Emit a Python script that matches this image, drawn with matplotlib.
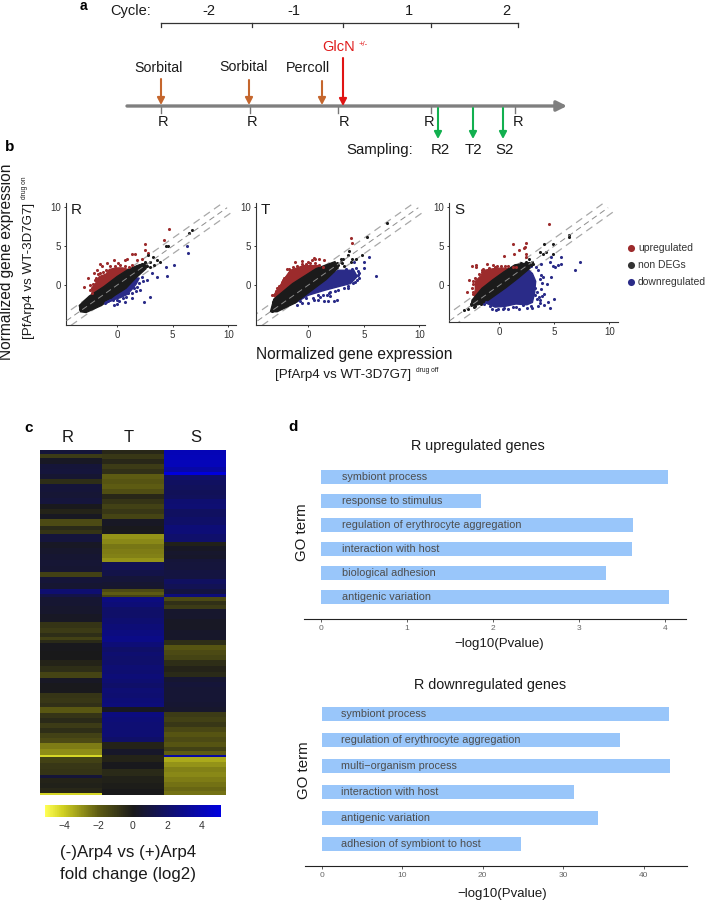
import matplotlib
matplotlib.use('Agg')
import matplotlib.pyplot as plt
from matplotlib.colors import LinearSegmentedColormap
import numpy as np

plt.rcParams['font.family'] = ['Liberation Sans', 'DejaVu Sans']

W, H = 708, 902

# panel b: dense clouds are outlines, the rest single points
R_up_cloud = [(-2.2,-1.2),(-2.3,-0.4),(-1.9,0.3),(-1.6,1.1),(-1.0,1.4),(-0.7,2.0),(-0.1,2.2),(0.5,2.2),(1.0,2.0),(0.9,1.2),(0,0.5),(-1.2,-0.5)]
R_non_cloud = [(-3.3,-3.4),(-3.4,-2.6),(-2.5,-1.4),(-1.2,-0.2),(0,1.1),(1.0,2.0),(2.0,2.6),(2.7,2.8),(2.6,2.1),(1.6,0.8),(0.8,-0.4),(-0.2,-1.3),(-1.4,-2.6),(-2.8,-3.5)]
R_down_cloud = [(-1.5,-2.3),(-0.6,-2.0),(0.3,-1.6),(0.9,-1.2),(1.3,-0.6),(1.7,0.1),(2.0,0.9),(1.6,0.9),(0.7,-0.2),(-0.3,-1.1)]
R_up_pts = [(4.7,7.2),(2.5,5.3),(4.2,5.8),(1.3,4.0),(1.6,4.0),(-0.3,3.2),(-1.5,2.7),(-1.4,2.5),(0.7,3.2),(0.9,3.3),(2.2,3.4),(2.5,4.5),(2.8,4.1),(-2.6,0.9),(-3.0,-0.2),(-2.1,1.5),(-2.4,0),(-1.8,1.9),(-0.9,2.8),(0.1,2.8),(1.8,3.2),
            (-2.3,-1.0),(-2.4,-0.6),(-2.2,0.2),(-1.9,0.9),(-1.7,1.4),(-1.3,1.7),(-1.0,1.9),(-0.6,2.4),(-0.2,2.5),(0.3,2.6),(0.7,2.4),(1.1,2.3),(1.3,2.6),(-2.0,0.6),(-1.5,1.6)]
R_non_pts = [(6.7,7.0),(6.5,6.7),(4.4,5),(4.6,5),(3.6,3.2),(3.3,2.6),(3,2.3),(3.9,3),(2.8,3.8),(3.2,3.6),(-3.3,-3.1),(-3.2,-2.8),(-2.9,-2.1),(-2.4,-2.8),(-2.1,-2.6),(-1.7,-2.3),
             (-3,-2.4),(-2.6,-2.2),(-2.2,-1.9),(-2.7,-1.9),(-1.9,-1.3),(1.2,1.8),(1.8,2.5),(2.2,2.7),(2.7,2.4),(2.5,2.9),(3,3)]
R_down_pts = [(6.3,5),(6.4,4.1),(5.1,2.6),(4.4,2.3),(4.5,1.2),(3.6,1.1),(3.1,1.5),(3,-1.5),(2.4,-2.2),(-0.3,-2.6),(0,-2.4),(0.7,-2.1),(1.3,-1.7),(-0.6,-1.9),(-1.1,-2.3),(2.1,-0.6),(2.7,0.6),
              (-1,-2.2),(-0.4,-1.9),(0,-1.9),(0.5,-1.6),(0.8,-1.5),(1,-1),(1.3,-1),(1.5,-0.4),(1.8,-0.2),(2,0.3),(2.3,0.5),(2.2,1.0),(-0.8,-2.0),(0.2,-2.0),(1.7,-0.7)]

T_up_cloud = [(-3.1,-1.3),(-2.5,0),(-1.9,1.3),(-1.6,1.9),(-0.4,2.5),(0.9,2.5),(1.1,1.9),(-1.3,0),(-2.8,-1.9)]
T_non_cloud = [(-3.4,-3.4),(-3.1,-1.8),(-1.4,0.2),(0.7,2.1),(2.4,3.0),(2.7,2.2),(1.6,0.7),(0,-1.0),(-1.2,-2.3),(-2.8,-3.4)]
T_down_cloud = [(-1.2,-2.3),(0,-1.3),(1.5,-0.65),(2.7,-0.2),(3.8,0.2),(4.4,1.1),(4.1,1.9),(2.7,1.9),(1.5,0.85),(-0.1,-0.85)]
T_up_pts = [(3.8,6.0),(3.9,5.4),(-1.2,3),(-0.6,3.1),(-0.05,3),(0.5,3.5),(0.95,3.4),(1.4,3.2),(-1.9,2),(-2.4,0.4),(-2.8,-0.4),(-3.3,-1.3),(-3.1,-1.2),(-2.2,0.85),(-1.7,2.1),(0.6,3.3),(0.3,3.2),
            (-2.9,-0.7),(-2.6,-0.1),(-2.3,0.6),(-2.0,1.0),(-1.7,1.6),(-1.4,2.3),(-1,2.4),(-0.6,2.7),(-0.2,2.7),(0.2,2.8),(0.6,2.8),(1,2.6),(1.3,2.3)]
T_non_pts = [(7.1,7.9),(5.3,6.2),(3.7,4.4),(3.6,3.8),(2.9,3.4),(3.1,3.4),(3.9,3.3),(4.3,3.3),(4.8,3.9),(3.2,2.4),(2.6,2.8),(3.8,3),(-3.3,-3.3),
             (-3.1,-2.6),(-2.7,-2.7),(-2.3,-2.3),(-1.8,-2.2),(-1.5,-1.9),(2.9,3),(2.7,2.6),(2.2,2.1),(3,2.8),(-3.2,-2.2)]
T_down_pts = [(6.1,1.2),(5.5,3.6),(5,2.9),(5,2.2),(4.5,1.8),(4.4,0.6),(4,0.3),(3.6,-0.4),(2.6,-1.9),(2.3,-2),(1.8,-2),(1.4,-2),(0.9,-1.9),(0,-2.3),(-0.6,-2.3),(-1,-2.5),(2,-0.85),(4.1,3),(4.5,1.3),(2,-1.4),
              (-0.7,-2),(-0.2,-1.7),(0.4,-1.6),(0.9,-1.3),(1.3,-1.2),(1.9,-1),(2.4,-0.8),(2.7,-0.6),(3.2,-0.4),(3.6,-0.1),(4.2,0.4),(4.6,0.9),(4.6,1.6),(4.3,2.2),(3.9,2.1),(3.4,2.1),(0.5,-1.9),(1.1,-1.5),(1.7,-1.3)]

S_up_cloud = [(-2.3,-1.4),(-2.2,-0.5),(-2.2,0.5),(-1.7,1.2),(-1.4,1.9),(-0.6,2.1),(0.2,2.2),(1.0,2.1),(1.3,1.9),(0.5,1),(-0.6,0),(-1.7,-1.3)]
S_non_cloud = [(-2.6,-2.7),(-2.5,-1.9),(-1.6,-0.4),(-0.6,0.7),(0.4,1.7),(1.4,2.6),(2.8,2.9),(2.8,2.2),(1.7,0.9),(0.6,-0.3),(-0.4,-1.3),(-1.4,-2.3)]
S_down_cloud = [(-1.2,-2.3),(-0.4,-2.8),(0.5,-2.7),(1.5,-2.4),(2.5,-2.5),(3.0,-2.2),(3.2,-1),(3.3,0.5),(3.0,1.5),(2.6,2),(1.7,1.2),(0.6,0.1),(-0.4,-1)]
S_up_pts = [(4.5,7.8),(2.45,5.4),(2.3,4.9),(2.2,4.8),(1.2,5.2),(0.4,3.7),(1.3,4),(1.8,4.5),(2.4,4),(2.4,3.6),(-2.5,2.5),(-2.1,2.3),(-2.1,2.55),(-2.8,0.65),(-3,-0.85),(-2.45,0.5),(-1.1,2.7),(-0.6,2.55),(-0.2,2.5),(0.75,2.5),(-1.6,1.9),(-2.4,-1.1),
            (-2.4,-0.9),(-2.5,-0.3),(-2.4,0.2),(-2.2,0.9),(-1.9,1.4),(-1.6,1.7),(-1.5,2.1),(-1,2.2),(-0.4,2.3),(0.1,2.4),(0.5,2.4),(1.2,2.3),(1.5,2.3)]
S_non_pts = [(6.35,6.4),(6.3,6.1),(4.9,5.2),(4.1,5.2),(4.2,4.25),(4,4),(3.7,4.2),(4.9,4),(3.05,2.75),(2.65,3.4),(2.2,2.75),(-3.2,-3.2),(-2.9,-3),(-2.3,-2.75),
             (-2.6,-2.4),(-2.2,-2.6),(-2,-2.3),(-1.7,-2.4),(2.0,2.8),(2.4,3),(3,3),(2.9,2.6),(1.9,2.4)]
S_down_pts = [(7.3,2.9),(6.9,2),(5.6,3.6),(5.65,2.75),(5.35,2.6),(4.6,3),(4.9,2.5),(5.1,2.3),(4.7,3.6),(3.8,2.7),(4.7,1.1),(4.3,0.1),(5,-1.8),(4.6,-2.9),(4.1,-2.5),(4.4,-2.1),(4.1,-1.1),(3.7,-1.9),(-0.3,-3.2),(0.45,-2.9),(1.2,-2.8),(2.1,-2.55),(2.9,-2.6),(-1.2,-2.1),(3.4,-0.85),(3.7,0.85),(3.8,1.3),(3.2,-1.3),
              (-1.4,-2.4),(-0.9,-2.7),(-0.7,-3),(-0.1,-3),(0.3,-3.1),(0.8,-3),(1.5,-2.8),(1.8,-3),(2.5,-2.9),(3,-2.9),(3.5,-2.7),(3.7,-2.3),(3.6,-1.5),(3.9,-1.4),(3.8,-0.5),(3.9,0.3),(4,1),(3.5,1.9),(3.3,2.3),(2.9,2.4),(3.4,-1.8),(3.2,-0.4)]

legend_labels = ['upregulated', 'non DEGs', 'downregulated']

# panel c: value and band height for each column of the heat map
R_vals = [.8,-1,.3,.8,.9,.6,-.6,.8,.7,.9,.1,-.3,.2,-1.5,-.5,-.8,.9,.3,.5,.6,.7,.6,-1.2,.8,.6,2.2,1.2,.6,.5,.3,-.8,-1,-.6,-1.2,-.5,.1,0,-.3,-.6,-1.3,.3,.1,.1,-.8,-.9,-.7,-1.9,-.8,-.5,-1,-.6,-1.2,-1.5,-2.6,-2.9,-4.2,-1.2,-.9,-.8,.8,-.3,-.2,-.4,-4.2]
R_rows = [5,4,6,5,5,5,5,8,6,6,5,5,5,7,4,4,8,6,6,6,6,6,5,6,6,5,3,9,8,8,5,5,4,3,3,8,9,6,6,6,5,5,5,5,5,4,6,5,5,5,5,5,5,6,6,2,6,6,6,3,5,5,5,2]
T_vals = [-.4,-.9,-.4,-1,-.7,-2,-1.8,-2,-1.6,-.4,-.8,-1.2,-.9,-1.3,.3,.1,-3,-2.8,-2.5,-2.6,-2.7,-3,1.5,1.2,.8,.6,.5,-1.5,-2,-1.3,2.6,2.4,2,2,2.2,2.4,2.6,2.8,2.4,2,2.2,2.1,2.1,2.3,2.2,2.4,2.2,2,2.3,2.2,2.4,2.5,.2,2.6,2.4,2.3,2.3,2.3,2,-.3,.4,-.3,.1,-.5,-.2,-.1,0]
T_rows = [5,5,5,5,5,5,5,5,5,5,5,5,5,5,7,8,5,5,5,5,4,4,8,6,6,4,3,3,3,2,5,5,6,5,5,6,6,6,5,5,4,4,5,5,4,5,4,5,5,5,5,4,5,5,5,5,5,5,5,7,6,7,7,7,7,6,6]
S_vals = [4,4.1,4.1,3.6,5,2,1.8,1.7,1.6,1.7,2.2,2.3,1.8,2,2.4,2.1,-.2,.3,.5,.4,.8,.9,1,1.8,1.5,1,2.5,-1.5,-.7,-1,.5,.3,.4,-.6,-1.8,-1.5,-1.3,-.6,-.3,-.5,.6,.8,.7,.7,.7,.6,.5,-1,-1.2,-.9,-1.4,-1.8,-1.5,-1.8,-1.2,-2,3.5,-3.4,-3,-2.7,-2.8,-2.6,-2.4,-2.2,-2.4]
S_rows = [6,6,6,5,3,5,5,5,5,4,5,5,8,8,9,8,4,5,4,4,3,8,9,5,5,5,3,4,4,4,10,10,10,5,5,5,5,6,6,5,5,5,5,5,5,5,5,5,5,5,5,5,5,5,4,4,2,5,5,5,5,5,5,4,4]
heat_labels = ['R', 'T', 'S']

# panel d
up_terms = ['antigenic variation','biological adhesion','interaction with host','regulation of erythrocyte aggregation','response to stimulus','symbiont process']
up_values = [4.04,3.31,3.61,3.62,1.86,4.03]
down_terms = ['adhesion of symbiont to host','antigenic variation','interaction with host','multi\u2212organism process','regulation of erythrocyte aggregation','symbiont process']
down_values = [24.8,34.3,31.4,43.3,37.1,43.15]

red = '#9c2b2c'
black = '#1b1b1b'
blue = '#2a2b88'
ink = '#1a1a1a'

fig = plt.figure(figsize=(W/100, H/100), dpi=100)


def px_axes(left, top, right, bottom):
    return fig.add_axes([left/W, 1-bottom/H, (right-left)/W, (bottom-top)/H])


# overlay in image pixels for the schematic and the free labels
ov = px_axes(0, 0, W, H)
ov.set_xlim(0, W)
ov.set_ylim(H, 0)
ov.axis('off')
ov.set_zorder(5)


def label(x, y, s, size=9, color=ink, **kw):
    kw.setdefault('ha', 'center')
    kw.setdefault('va', 'center')
    ov.text(x, y, s, fontsize=size, color=color, **kw)


def arrow(x, y0, y1, color):
    ov.annotate('', xy=(x, y1), xytext=(x, y0),
                arrowprops=dict(arrowstyle='-|>,head_width=0.22,head_length=0.42', color=color, lw=1.5, shrinkA=0, shrinkB=0))


# panel a
label(83, 6, 'a', 10, 'black', fontweight='bold')
label(131, 11, 'Cycle:', 10.5)
for x, s in zip([209, 294, 409, 506], ['-2', '-1', '1', '2']):
    label(x, 11, s, 10.5)
ov.plot([161, 518], [23, 23], color='#333333', lw=0.9)
for x in [161, 252, 343, 431, 518]:
    ov.plot([x, x], [23, 27], color='#333333', lw=0.9)
ov.annotate('', xy=(567, 106), xytext=(127, 106),
            arrowprops=dict(arrowstyle='-|>,head_width=0.3,head_length=0.6', color='#7f7f7f', lw=2.4, shrinkA=0, shrinkB=0))
for x in [161, 250, 338, 431, 515]:
    ov.plot([x, x], [107, 113], color='#777777', lw=1)
for x in [163, 252, 344, 429, 518]:
    label(x, 122, 'R', 10.5)
label(159, 68, 'Sorbital', 10.2)
label(244, 67, 'Sorbital', 10.2)
label(308, 68, 'Percoll', 10.4)
label(339, 47, 'GlcN', 10.5, '#e01b1b')
label(363, 44, '+/-', 5.5, '#e01b1b')
for x, y0 in zip([161, 249, 322], [79, 80, 81]):
    arrow(x, y0, 105, '#c5662d')
arrow(343, 58, 106, '#e01414')
for x, y1 in zip([438, 473, 503], [139, 139, 139]):
    arrow(x, 108, y1, '#12b04f')
label(380, 150, 'Sampling:', 10.8)
for x, s in zip([440, 473, 505], ['R2', 'T2', 'S2']):
    label(x, 150, s, 10.8)

# panel b
label(10, 147, 'b', 11, 'black', fontweight='bold')
label(7, 262, 'Normalized gene expression', 11.2, rotation=90)
label(29, 271, '[PfArp4 vs WT-3D7G7]', 9.6, rotation=90)
label(24, 188, 'drug on', 4.8, rotation=90)
label(354, 355, 'Normalized gene expression', 11.2)
label(343, 375, '[PfArp4 vs WT-3D7G7]', 9.6)
label(427, 370, 'drug off', 4.8)

panels = [
    ('R', (66, 203, 236, 325), (-4.6, 10.7), (-5.1, 10.5), R_up_cloud, R_non_cloud, R_down_cloud, R_up_pts, R_non_pts, R_down_pts),
    ('T', (256, 203, 425, 325), (-4.7, 10.5), (-5.1, 10.5), T_up_cloud, T_non_cloud, T_down_cloud, T_up_pts, T_non_pts, T_down_pts),
    ('S', (449, 203, 618, 322), (-4.6, 10.8), (-4.7, 10.5), S_up_cloud, S_non_cloud, S_down_cloud, S_up_pts, S_non_pts, S_down_pts),
]
for name, box, xl, yl, up_c, non_c, down_c, up_p, non_p, down_p in panels:
    ax = px_axes(*box)
    ax.set_xlim(*xl)
    ax.set_ylim(*yl)
    # the side lines sit under the clouds, only the middle one shows on the black
    for off, x_end, z, col, lw in [(1, 9.4, 1, '#a8a8a8', 0.9), (0, 9.9, 4, '#8c8c8c', 0.7), (-1, 10.4, 1, '#a8a8a8', 0.9)]:
        ax.plot([-6, x_end], [-6+off, x_end+off], color=col, lw=lw, dashes=(6, 4), zorder=z)
    for cloud, col in [(down_c, blue), (up_c, red), (non_c, black)]:
        xs, ys = zip(*cloud)
        ax.fill(xs, ys, color=col, lw=1, zorder=2)
    for pts, col in [(down_p, blue), (up_p, red), (non_p, black)]:
        xs, ys = zip(*pts)
        ax.scatter(xs, ys, s=5, color=col, lw=0, zorder=3)
    ax.spines['top'].set_visible(False)
    ax.spines['right'].set_visible(False)
    ax.spines['left'].set_color('#333333')
    ax.spines['bottom'].set_color('#333333')
    ax.set_xticks([0, 5, 10])
    ax.set_yticks([0, 5, 10])
    ax.tick_params(labelsize=7, length=1.5, width=0.7, pad=2, colors='#333333')
    ax.text(0.03, 0.94, name, transform=ax.transAxes, fontsize=11, color=ink, ha='left', va='center')

for y, s, col in zip([248, 265, 282], legend_labels, [red, '#333333', blue]):
    ov.scatter([631], [y], s=26, color=col, lw=0)
    label(638, y, s, 7.5, '#333333', ha='left')

# panel c
label(29, 428, 'c', 11, 'black', fontweight='bold')
for x, s in zip([68, 129, 196], heat_labels):
    label(x, 438, s, 12)
cmap = LinearSegmentedColormap.from_list('ybk', [(0, '#ffff55'), (0.1, '#d0d020'), (0.3, '#5e5c12'), (0.5, '#1a1a1a'), (1, '#0000e0')])
heat = np.column_stack([np.repeat(R_vals, R_rows), np.repeat(T_vals, T_rows), np.repeat(S_vals, S_rows)])
ax = px_axes(40, 450, 226, 795)
im = ax.imshow(heat, aspect='auto', cmap=cmap, vmin=-5.1, vmax=5.1, interpolation='nearest')
ax.axis('off')
cax = px_axes(45, 805, 221, 817)
cb = fig.colorbar(im, cax=cax, orientation='horizontal', ticks=[-4, -2, 0, 2, 4])
cb.outline.set_visible(False)
cb.ax.set_xticklabels(['\u22124', '\u22122', '0', '2', '4'])
cb.ax.tick_params(length=0, labelsize=7.5, pad=3, labelcolor='#333333')
label(128, 853, '(-)Arp4 vs (+)Arp4', 12.2)
label(128, 874, 'fold change (log2)', 12.2)

# panel d
label(293, 427, 'd', 11, 'black', fontweight='bold')
charts = [
    ((304, 465, 686, 619), (-0.197, 4.24), (-0.917, 5.5), up_terms, up_values, 0.25, [0, 1, 2, 3, 4], 0.583,
     'R upregulated genes', (478, 446), (499, 644), (302, 532), 628),
    ((305, 695, 687, 866), (-2.1, 45.4), (-0.846, 5.73), down_terms, down_values, 2.4, [0, 10, 20, 30, 40], 0.538,
     'R downregulated genes', (490, 685), (502, 894), (304, 770), 877),
]
for box, xl, yl, terms, vals, text_x, ticks, bar_h, title, tpos, xpos, ypos, tick_y in charts:
    ax = px_axes(*box)
    ypos_bars = np.arange(len(terms))
    ax.barh(ypos_bars, vals, height=bar_h, color='#99c6fa')
    ax.set_xlim(*xl)
    ax.set_ylim(*yl)
    for y, term in zip(ypos_bars, terms):
        ax.text(text_x, y, term, fontsize=7.8, color='#4d4d4d', va='center', ha='left')
    for side in ['top', 'right', 'left']:
        ax.spines[side].set_visible(False)
    ax.spines['bottom'].set_color('#222222')
    ax.set_yticks([])
    ax.set_xticks(ticks)
    ax.tick_params(axis='x', labelsize=6, length=2, width=0.6, pad=2, labelcolor='#666666', color='#444444')
    label(tpos[0], tpos[1], title, 10.4)
    label(xpos[0], xpos[1], '\u2212log10(Pvalue)', 9.5)
    label(ypos[0], ypos[1], 'GO term', 10.8, rotation=90)

fig.savefig('out.png', dpi=100)
